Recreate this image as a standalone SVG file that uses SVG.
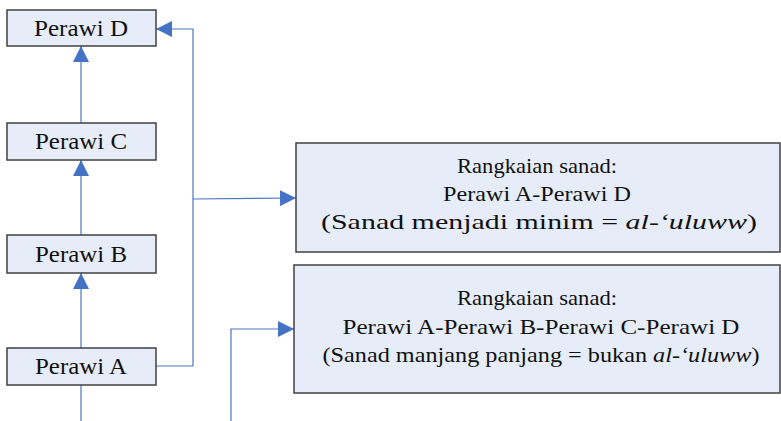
<svg xmlns="http://www.w3.org/2000/svg" width="781" height="421" viewBox="0 0 781 421">
<defs>
<style>
.box{fill:#E7EDF8;stroke:#404040;stroke-width:1.5}
.lbl{font-size:23px;fill:#111;text-anchor:middle}
.big{font-size:22px;fill:#111;text-anchor:middle}
.con{fill:none;stroke:#4A76C0;stroke-width:1.2}
</style>
<marker id="arr" markerUnits="userSpaceOnUse" markerWidth="16" markerHeight="16" viewBox="0 0 14 14" refX="14" refY="7" orient="auto">
<path d="M0,0 L14,7 L0,14 Z" fill="#4472C4"/>
</marker>
</defs>
<rect width="781" height="421" fill="#fff"/>
<g id="connectors">
<line class="con" x1="81" y1="421" x2="81" y2="385"/>
<line class="con" x1="81" y1="348" x2="81" y2="273" marker-end="url(#arr)"/>
<line class="con" x1="81" y1="235" x2="81" y2="160" marker-end="url(#arr)"/>
<line class="con" x1="81" y1="123" x2="81" y2="46" marker-end="url(#arr)"/>
<polyline class="con" points="156,366 193,366 193,29 156,29" marker-end="url(#arr)"/>
<line class="con" x1="193" y1="199" x2="296" y2="198" marker-end="url(#arr)"/>
<polyline class="con" points="231,421 231,329 294,329" marker-end="url(#arr)"/>
</g>
<g font-family="Liberation Serif, Times New Roman, serif">
<g id="perawi-d">
<rect class="box" x="7" y="10" width="149" height="36"/>
<text class="lbl" x="81" y="36" textLength="94" lengthAdjust="spacingAndGlyphs">Perawi D</text>
</g>
<g id="perawi-c">
<rect class="box" x="7" y="123" width="149" height="37"/>
<text class="lbl" x="81" y="149" textLength="92" lengthAdjust="spacingAndGlyphs">Perawi C</text>
</g>
<g id="perawi-b">
<rect class="box" x="7" y="235" width="149" height="38"/>
<text class="lbl" x="81" y="262" textLength="92" lengthAdjust="spacingAndGlyphs">Perawi B</text>
</g>
<g id="perawi-a">
<rect class="box" x="7" y="348" width="149" height="37"/>
<text class="lbl" x="81" y="374" textLength="92" lengthAdjust="spacingAndGlyphs">Perawi A</text>
</g>
<g id="sanad-pendek">
<rect class="box" x="296" y="143" width="484" height="109"/>
<text class="big" x="537" y="173" textLength="160" lengthAdjust="spacingAndGlyphs">Rangkaian sanad:</text>
<text class="big" x="537" y="201" textLength="188" lengthAdjust="spacingAndGlyphs">Perawi A-Perawi D</text>
<text class="big" x="539" y="229" textLength="436" lengthAdjust="spacingAndGlyphs">(Sanad menjadi minim = <tspan font-style="italic">al-‘uluww</tspan>)</text>
</g>
<g id="sanad-panjang">
<rect class="box" x="294" y="265" width="486" height="128"/>
<text class="big" x="537" y="305" textLength="160" lengthAdjust="spacingAndGlyphs">Rangkaian sanad:</text>
<text class="big" x="541" y="334" textLength="397" lengthAdjust="spacingAndGlyphs">Perawi A-Perawi B-Perawi C-Perawi D</text>
<text class="big" x="541" y="362" textLength="437" lengthAdjust="spacingAndGlyphs">(Sanad manjang panjang = bukan <tspan font-style="italic">al-‘uluww</tspan>)</text>
</g>
</g>
</svg>
